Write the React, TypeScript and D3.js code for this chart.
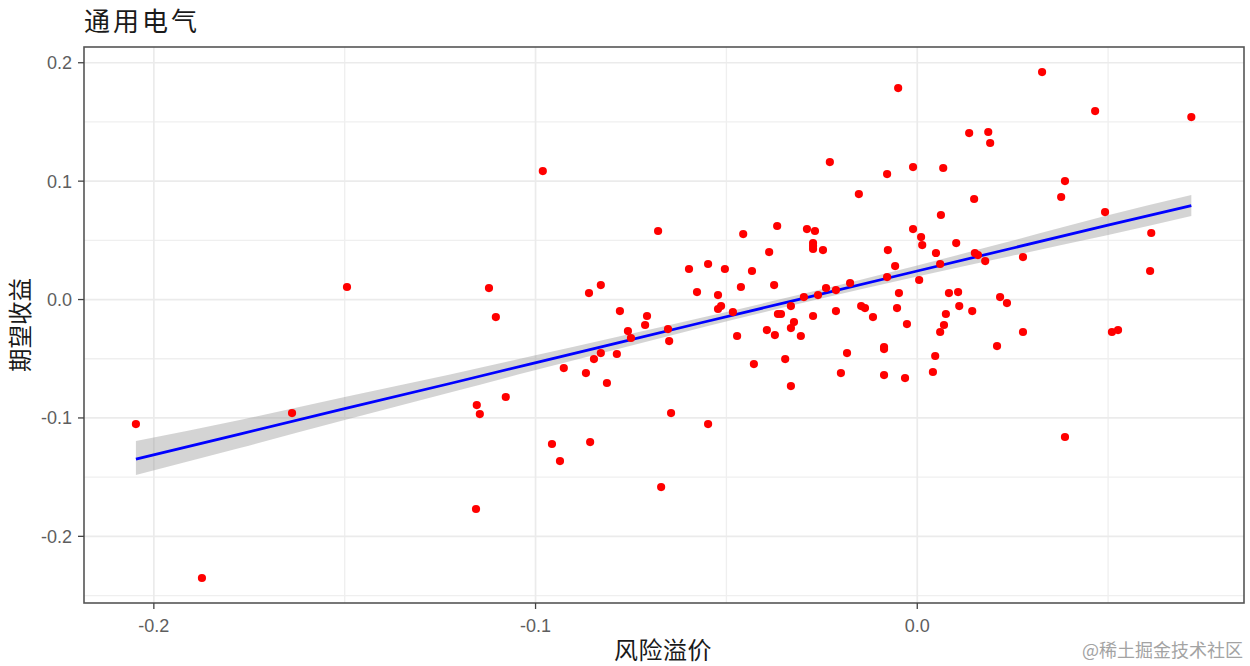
import React from "react";
import * as d3 from "d3";

const titleText = "通用电气";
const xLabel = "风险溢价";
const yLabel = "期望收益";
const watermark = "@稀土掘金技术社区";

const xMajor = [-0.2, -0.1, 0];
const xMinor = [-0.15, -0.05, 0.05];
const yMajor = [-0.2, -0.1, 0, 0.1, 0.2];
const yMinor = [-0.25, -0.15, -0.05, 0.05, 0.15];

const premium = [
  -0.2047, -0.1874, -0.1638, -0.1494, -0.1156, -0.1154, -0.1146, -0.1122, -0.1104, -0.1078,
  -0.0981, -0.0957, -0.0936, -0.0926, -0.0868, -0.0857, -0.086, -0.0847, -0.0829, -0.0829,
  -0.0813, -0.0787, -0.0779, -0.0758, -0.075, -0.0708, -0.0713, -0.0679, -0.0671, -0.0653,
  -0.065, -0.0645, -0.0598, -0.0577, -0.0548, -0.0548, -0.0522, -0.0514, -0.0522, -0.0504,
  -0.0483, -0.0472, -0.0462, -0.0456, -0.0433, -0.0428, -0.0394, -0.0388, -0.0375, -0.0373,
  -0.0367, -0.0365, -0.0357, -0.0346, -0.0331, -0.0331, -0.0331, -0.0323, -0.0305, -0.0297,
  -0.0289, -0.0268, -0.0273, -0.0273, -0.0273, -0.0273, -0.026, -0.0247, -0.0239, -0.0229,
  -0.0213, -0.0213, -0.02, -0.0184, -0.0176, -0.0153, -0.0147, -0.0137, -0.0116, -0.0087,
  -0.0087, -0.0087, -0.0079, -0.0079, -0.0077, -0.0058, -0.0053, -0.0048, -0.005, -0.0032,
  -0.0027, -0.0011, -0.0011, 0.0005, 0.001, 0.0013, 0.0041, 0.0047, 0.0049, 0.006,
  0.006, 0.0062, 0.0068, 0.007, 0.0075, 0.0083, 0.0102, 0.0107, 0.011, 0.0136,
  0.0144, 0.0149, 0.0151, 0.0159, 0.0178, 0.0186, 0.0191, 0.0209, 0.0217, 0.0235,
  0.0277, 0.0277, 0.0327, 0.0377, 0.0387, 0.0387, 0.0466, 0.0492, 0.051, 0.0526,
  0.061, 0.0613, 0.0718,
];

const excess = [
  -0.1052, -0.2352, -0.0959, 0.0106, -0.1769, -0.0891, -0.0967, 0.0097, -0.0148, -0.0823,
  0.1085, -0.122, -0.1364, -0.0579, -0.0621, -0.1204, 0.0055, -0.0503, 0.0122, -0.0452,
  -0.0705, -0.046, -0.0097, -0.0266, -0.0325, -0.0139, -0.0215, 0.0579, -0.1584, -0.0249,
  -0.0351, -0.0959, 0.0258, 0.0063, 0.03, -0.1052, 0.0038, -0.0055, -0.008, 0.0258,
  -0.0106, -0.0308, 0.0106, 0.0553, 0.0241, -0.0545, -0.0258, 0.0401, 0.0122, -0.03,
  0.0621, -0.0122, -0.0122, -0.0503, -0.0731, -0.0055, -0.0241, -0.019, -0.0308, 0.0021,
  0.0595, 0.0579, -0.0139, 0.0477, 0.0452, 0.0427, 0.0038, 0.0418, 0.0097, 0.1161,
  0.008, -0.0097, -0.0621, -0.0452, 0.0139, 0.0891, -0.0055, -0.0072, -0.0148, -0.0401,
  -0.0418, -0.0638, 0.106, 0.019, 0.0418, 0.0283, -0.0072, 0.0055, 0.1786, -0.0663,
  -0.0207, 0.1119, 0.0595, 0.0165, 0.0528, 0.046, -0.0612, -0.0477, 0.0393, -0.0274,
  0.03, 0.0714, 0.1111, -0.0215, -0.0122, 0.0055, 0.0477, 0.0063, -0.0055, 0.1406,
  -0.0097, 0.0849, 0.0393, 0.0376, 0.0325, 0.1415, 0.1322, -0.0393, 0.0021, -0.003,
  0.0359, -0.0274, 0.1921, 0.0866, 0.1001, -0.1161, 0.1592, 0.0739, -0.0274, -0.0258,
  0.0241, 0.0562, 0.1541,
];

const fitX = [-0.2047, -0.1775, -0.15, -0.1224, -0.1015, -0.0779, -0.0569, -0.0307, 0, 0.0243, 0.0497, 0.0718];
const fitY = [-0.1347, -0.1136, -0.0921, -0.0709, -0.0545, -0.0362, -0.0198, 0.0004, 0.0241, 0.0429, 0.0626, 0.0794];
const fitLow = [-0.1482, -0.1254, -0.1018, -0.0785, -0.0608, -0.0413, -0.024, -0.0034, 0.0195, 0.0366, 0.0542, 0.0705];
const fitHigh = [-0.1195, -0.1018, -0.0824, -0.0633, -0.0482, -0.0311, -0.0156, 0.0042, 0.0287, 0.0492, 0.071, 0.0883];

const W = 1250;
const H = 666;
const panel = { left: 84, right: 1244, top: 47, bottom: 603 };

const x = d3.scaleLinear().domain([-0.2183, 0.0856]).range([panel.left, panel.right]);
const y = d3.scaleLinear().domain([-0.2563, 0.2133]).range([panel.bottom, panel.top]);

const fmt = d3.format(".1f");
const label = (v: number) => fmt(v).replace("\u2212", "-");

const latin = "'Liberation Sans', Arial, sans-serif";
const cjk = "'Noto Sans CJK SC', sans-serif";
const tickColor = "#5E5E5E";

export default function App() {
  const idx = d3.range(fitX.length);
  const band = d3
    .area<number>()
    .x((i) => x(fitX[i]))
    .y0((i) => y(fitLow[i]))
    .y1((i) => y(fitHigh[i]))
    .curve(d3.curveMonotoneX)(idx)!;
  const line = d3
    .line<number>()
    .x((i) => x(fitX[i]))
    .y((i) => y(fitY[i]))(idx)!;

  return (
    <svg
      width={W}
      height={H}
      viewBox={`0 0 ${W} ${H}`}
      style={{ position: "absolute", left: 0, top: 0, background: "#fff" }}
    >
      <g stroke="#EFEFEF" strokeWidth={1.3} fill="none">
        {xMinor.map((v) => (
          <line key={v} x1={x(v)} x2={x(v)} y1={panel.top} y2={panel.bottom} />
        ))}
        {yMinor.map((v) => (
          <line key={v} x1={panel.left} x2={panel.right} y1={y(v)} y2={y(v)} />
        ))}
      </g>
      <g stroke="#EBEBEB" strokeWidth={1.7} fill="none">
        {xMajor.map((v) => (
          <line key={v} x1={x(v)} x2={x(v)} y1={panel.top} y2={panel.bottom} />
        ))}
        {yMajor.map((v) => (
          <line key={v} x1={panel.left} x2={panel.right} y1={y(v)} y2={y(v)} />
        ))}
      </g>

      <path d={band} fill="#999999" fillOpacity={0.42} />
      <path d={line} fill="none" stroke="#0000FF" strokeWidth={2.8} />

      <g fill="#FF0000">
        {premium.map((p, i) => (
          <circle key={i} cx={x(p)} cy={y(excess[i])} r={4.1} />
        ))}
      </g>

      <rect
        x={panel.left}
        y={panel.top}
        width={panel.right - panel.left}
        height={panel.bottom - panel.top}
        fill="none"
        stroke="#555555"
        strokeWidth={1.6}
      />

      <g stroke="#444444" strokeWidth={1.3}>
        {xMajor.map((v) => (
          <line key={v} x1={x(v)} x2={x(v)} y1={panel.bottom} y2={panel.bottom + 6} />
        ))}
        {yMajor.map((v) => (
          <line key={v} x1={panel.left - 6} x2={panel.left} y1={y(v)} y2={y(v)} />
        ))}
      </g>

      <g fill={tickColor} fontFamily={latin} fontSize={18}>
        {xMajor.map((v) => (
          <text key={v} x={x(v)} y={632} textAnchor="middle">
            {label(v)}
          </text>
        ))}
        {yMajor.map((v) => (
          <text key={v} x={72} y={y(v) + 6.5} textAnchor="end">
            {label(v)}
          </text>
        ))}
      </g>

      <text x={84} y={31} fontFamily={cjk} fontSize={26} letterSpacing={3} fill="#1a1a1a">
        {titleText}
      </text>
      <text x={663} y={659} textAnchor="middle" fontFamily={cjk} fontSize={24} letterSpacing={0.5} fill="#1a1a1a">
        {xLabel}
      </text>
      <text
        transform="translate(29,325) rotate(-90)"
        textAnchor="middle"
        fontFamily={cjk}
        fontSize={23.5}
        fill="#1a1a1a"
      >
        {yLabel}
      </text>
      <text x={1243} y={657} textAnchor="end" fontFamily={cjk} fontSize={18} fill="#A3A3A3">
        {watermark}
      </text>
    </svg>
  );
}
